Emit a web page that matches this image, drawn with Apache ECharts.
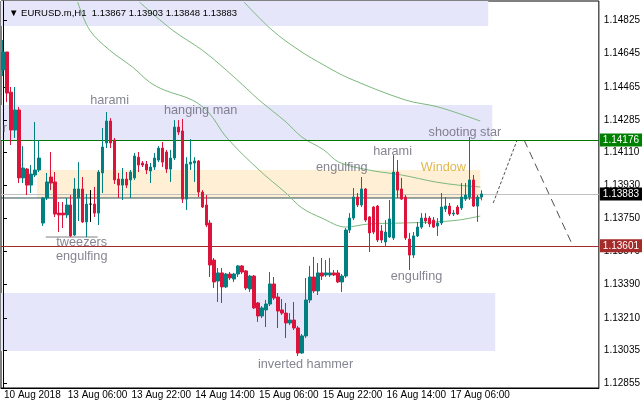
<!DOCTYPE html>
<html><head><meta charset="utf-8">
<script src="https://cdn.jsdelivr.net/npm/echarts@6/dist/echarts.min.js"></script>
<style>html,body{margin:0;padding:0;background:#fff}#c{width:643px;height:406px}</style>
</head><body><div id="c"></div>
<script>
const symbolName = 'EURUSD.m,H1';
// OHLC per H1 bar: [open, high, low, close]
const candles = [
[1.14556,1.14719,1.14523,1.14654],[1.14654,1.14654,1.14382,1.14431],[1.14436,1.14464,1.14149,1.14230],[1.14230,1.14464,1.14187,1.14339],
[1.14339,1.14355,1.13942,1.13970],[1.13970,1.14143,1.13942,1.14024],[1.14018,1.14024,1.13877,1.13931],[1.13931,1.14040,1.13888,1.13991],
[1.13986,1.14274,1.13975,1.14013],[1.14013,1.14176,1.14002,1.14078],[1.13725,1.13866,1.13709,1.13861],[1.13861,1.13997,1.13850,1.13948],
[1.13975,1.14111,1.13904,1.13942],[1.13948,1.14002,1.13758,1.13774],[1.13779,1.13839,1.13676,1.13769],[1.13779,1.13839,1.13698,1.13769],
[1.13769,1.13861,1.13752,1.13823],[1.13823,1.13877,1.13649,1.13655],[1.13660,1.13970,1.13655,1.13910],[1.13861,1.14056,1.13736,1.13910],
[1.13910,1.13975,1.13725,1.13731],[1.13731,1.13883,1.13649,1.13828],[1.13828,1.13904,1.13731,1.13828],[1.13828,1.13921,1.13758,1.13779],
[1.13779,1.14013,1.13714,1.14002],[1.13997,1.14241,1.13888,1.14138],[1.14160,1.14328,1.14132,1.14279],[1.14279,1.14295,1.14132,1.14160],
[1.14176,1.14187,1.13937,1.13959],[1.13964,1.13997,1.13861,1.13931],[1.13931,1.14024,1.13850,1.13964],[1.13964,1.14002,1.13915,1.13931],
[1.13959,1.14013,1.13861,1.14002],[1.13970,1.14105,1.13959,1.14089],[1.14083,1.14111,1.14002,1.14040],[1.14051,1.14062,1.14029,1.14040],
[1.14045,1.14062,1.13991,1.14013],[1.14008,1.14051,1.13942,1.14029],[1.14029,1.14105,1.14013,1.14078],[1.14067,1.14143,1.14056,1.14132],
[1.14132,1.14165,1.14029,1.14056],[1.14111,1.14122,1.13997,1.14018],[1.14018,1.14122,1.13948,1.14078],[1.14078,1.14284,1.14067,1.14246],
[1.14246,1.14284,1.14203,1.14219],[1.14225,1.14290,1.13834,1.13855],[1.13855,1.14083,1.13796,1.14045],[1.14045,1.14181,1.14013,1.14056],
[1.14051,1.14083,1.13948,1.14062],[1.14062,1.14067,1.13866,1.13893],[1.13893,1.13904,1.13807,1.13812],[1.13823,1.13877,1.13703,1.13714],
[1.13725,1.13741,1.13432,1.13497],[1.13524,1.13535,1.13372,1.13405],[1.13410,1.13481,1.13296,1.13454],[1.13454,1.13481,1.13291,1.13378],
[1.13378,1.13454,1.13372,1.13448],[1.13448,1.13459,1.13416,1.13427],[1.13421,1.13454,1.13405,1.13448],[1.13448,1.13497,1.13432,1.13492],
[1.13492,1.13497,1.13448,1.13459],[1.13465,1.13470,1.13361,1.13372],[1.13367,1.13443,1.13350,1.13437],[1.13437,1.13443,1.13258,1.13264],
[1.13291,1.13296,1.13188,1.13220],[1.13220,1.13274,1.13209,1.13264],[1.13253,1.13307,1.13160,1.13285],[1.13285,1.13459,1.13274,1.13394],
[1.13394,1.13432,1.13307,1.13318],[1.13323,1.13345,1.13155,1.13247],[1.13253,1.13312,1.13226,1.13236],[1.13236,1.13291,1.13101,1.13182],
[1.13182,1.13236,1.13171,1.13198],[1.13198,1.13296,1.13144,1.13155],[1.13155,1.13166,1.13003,1.13019],[1.13019,1.13122,1.13014,1.13112],
[1.13112,1.13427,1.13101,1.13307],[1.13307,1.13492,1.13291,1.13432],[1.13432,1.13541,1.13345,1.13356],[1.13356,1.13508,1.13334,1.13454],
[1.13454,1.13535,1.13416,1.13437],[1.13443,1.13524,1.13432,1.13454],[1.13443,1.13535,1.13432,1.13454],[1.13454,1.13470,1.13437,1.13443],
[1.13454,1.13470,1.13399,1.13405],[1.13405,1.13448,1.13350,1.13437],[1.13437,1.13698,1.13427,1.13687],[1.13687,1.13779,1.13671,1.13752],
[1.13752,1.13915,1.13741,1.13866],[1.13866,1.13888,1.13812,1.13823],[1.13823,1.13975,1.13812,1.13910],[1.13910,1.13915,1.13731,1.13741],
[1.13758,1.13763,1.13568,1.13671],[1.13812,1.13817,1.13665,1.13676],[1.13817,1.13823,1.13622,1.13633],[1.13682,1.13714,1.13617,1.13633],
[1.13622,1.13741,1.13595,1.13676],[1.13649,1.13850,1.13644,1.13747],[1.13644,1.14094,1.13633,1.14002],[1.14002,1.14067,1.13861,1.13904],
[1.13910,1.13970,1.13850,1.13855],[1.13866,1.13877,1.13633,1.13644],[1.13638,1.13671,1.13470,1.13551],[1.13551,1.13676,1.13535,1.13655],
[1.13655,1.13731,1.13649,1.13703],[1.13703,1.13779,1.13693,1.13752],[1.13752,1.13779,1.13720,1.13736],[1.13752,1.13763,1.13703,1.13720],
[1.13741,1.13758,1.13698,1.13703],[1.13709,1.13752,1.13655,1.13725],[1.13725,1.13888,1.13714,1.13812],[1.13801,1.13866,1.13785,1.13817],
[1.13817,1.13834,1.13763,1.13774],[1.13774,1.13796,1.13763,1.13779],[1.13812,1.13823,1.13769,1.13774],[1.13807,1.13942,1.13796,1.13866],
[1.13855,1.13942,1.13845,1.13877],[1.13866,1.14192,1.13850,1.13959],[1.13959,1.13986,1.13812,1.13817],[1.13817,1.13877,1.13731,1.13866],
[1.13867,1.13903,1.13848,1.13883]
];
const totalSlots = 150;
const xTickLabels = ['10 Aug 2018','13 Aug 06:00','13 Aug 22:00','14 Aug 14:00','15 Aug 06:00','15 Aug 22:00','16 Aug 14:00','17 Aug 06:00'];
const barsPerLabel = 16;
const yTickLabels = [1.14825,1.14645,1.14465,1.14285,1.14110,1.13930,1.13750,1.13570,1.13390,1.13210,1.13035,1.12855];
const yMin = 1.12829, yMax = 1.14931;
// moving averages: [bar index, price]
const maSlow = [[60.5,1.14925],[67.5,1.14773],[74.25,1.14664],[80.5,1.14583],[86.75,1.14512],[101,1.14393],[109.25,1.14355],[119.75,1.14279]];
const maMid = [[34.25,1.14925],[42.5,1.14773],[50,1.14664],[56,1.14556],[61,1.14458],[64.25,1.14393],[71,1.14274],[75,1.14192],[80.5,1.14122],[84.25,1.14056],[91.75,1.14013],[100,1.13986],[108.5,1.13948],[114.25,1.13931],[119.75,1.13921]];
const maFast = [[18.75,1.14925],[21.75,1.14773],[26.75,1.14664],[32.5,1.14572],[36.75,1.14491],[40.5,1.14447],[47.5,1.14393],[51.75,1.14322],[56,1.14192],[64.25,1.14013],[71,1.13888],[75,1.13807],[80,1.13752],[86,1.13703],[91.75,1.13720],[100,1.13725],[108.5,1.13731],[114.25,1.13741],[119.75,1.13763]];
// forecast path
const forecastUp = [[123,1.13834],[129,1.14176]];
const forecastDown = [[130.75,1.14176],[143,1.13600]];
// zones: [xStart, xEnd, priceTop, priceBottom, kind]
const zones = [
  [-0.5,121.75,1.14931,1.14795,'blue'],
  [-0.5,122.75,1.14366,1.14176,'blue'],
  [8.5,119.75,1.14013,1.13861,'peach'],
  [-0.5,123.5,1.13345,1.13030,'blue']
];
// horizontal levels: [price, line colour, label box colour]
const levels = [[1.14176,'#007800','#008000'],[1.13883,'#c0c0c0','#000000'],[1.13601,'#a52a2a','#a52a2a']];
const windowLine = [[-0.5,1.13861],[120,1.13861]];
const tweezersLine = [[10.75,1.13649],[23.75,1.13649]];
// pattern annotations: [x index, price, text]
const notes = [
  [26.75,1.14388,'harami'],[49.6,1.14339,'hanging man'],[19.75,1.13617,'tweezers'],[19.75,1.13546,'engulfing'],
  [85,1.14029,'engulfing'],[97.75,1.14111,'harami'],[115.9,1.14219,'shooting star'],[75.9,1.12954,'inverted hammer'],
  [103.75,1.13432,'engulfing'],[0.5,1.14236,'r']
];
const windowNote = [[110.5,1.14024,'Window']];

const FONT = '"Liberation Sans", Arial, sans-serif';
const last = candles[candles.length-1];
const chart = echarts.init(document.getElementById('c'), null, {renderer:'canvas'});
const isLabelIdx = (idx) => idx % barsPerLabel === 0 && idx / barsPerLabel < xTickLabels.length;
const noteSeries = (arr, color) => ({
  type:'scatter', xAxisIndex:1, yAxisIndex:0, symbolSize:0, silent:true, z:6,
  data: arr.map(([x,p,t])=>({value:[x,p], name:t})),
  label:{show:true, position:'inside', formatter:'{b}', color, fontSize:12.7, fontFamily:FONT}
});
const maSeries = (arr) => ({type:'line', xAxisIndex:1, yAxisIndex:0, data:arr, smooth:0.35, symbol:'none', silent:true, z:4,
  lineStyle:{color:'#7cb87c', width:1}});
const zoneSeries = {type:'custom', xAxisIndex:1, yAxisIndex:0, silent:true, z:0, clip:true,
  data: zones.map(z=>[z[0],z[1],z[2],z[3], z[4]==='peach'?1:0]),
  encode:{x:[0,1], y:[2,3]},
  renderItem:(params, api)=>{
    const p0 = api.coord([api.value(0), api.value(2)]);
    const p1 = api.coord([api.value(1), api.value(3)]);
    const c = params.coordSys;
    const x0 = Math.max(p0[0], c.x), x1 = Math.min(p1[0], c.x + c.width);
    const y0 = Math.max(p0[1], c.y), y1 = Math.min(p1[1], c.y + c.height);
    return {type:'rect', shape:{x:x0, y:y0, width:x1-x0, height:y1-y0},
      style:{fill: api.value(4) ? '#ffefd5' : '#e6e6fa'}};
  }};

chart.setOption({
  animation:false,
  backgroundColor:'#fff',
  title:{text:'\u25BC ' + symbolName + '  ' + last.map(v=>v.toFixed(5)).join(' '), left:4, top:3,
    textStyle:{fontSize:9.5, fontWeight:'normal', color:'#000', fontFamily:FONT}},
  grid:{left:1, top:1, right:42, bottom:18, show:true, borderColor:'#000', borderWidth:1, backgroundColor:'#fff'},
  xAxis:[
    {type:'category', data:Array.from({length:totalSlots},(_,i)=>String(i)), boundaryGap:true,
      axisLine:{lineStyle:{color:'#000'}},
      axisTick:{interval:(idx)=>isLabelIdx(idx), alignWithLabel:true, length:4, lineStyle:{color:'#000'}},
      axisLabel:{interval:(idx)=>isLabelIdx(idx), formatter:(v,idx)=>xTickLabels[idx/barsPerLabel], align:'left',
        margin:2, color:'#000', fontSize:10, fontFamily:FONT, padding:[0,0,0,1]},
      splitLine:{show:false}},
    {type:'value', min:-0.5, max:totalSlots-0.5, show:false}
  ],
  yAxis:{type:'value', position:'right', min:yMin, max:yMax, scale:true,
    axisLine:{show:true, lineStyle:{color:'#000'}},
    axisTick:{show:true, customValues:yTickLabels, length:4, lineStyle:{color:'#000'}},
    axisLabel:{customValues:yTickLabels, formatter:(v)=>v.toFixed(5), color:'#000', fontSize:10, fontFamily:FONT, margin:5},
    splitLine:{show:false}},
  series:[
    zoneSeries,
    {type:'line', xAxisIndex:1, yAxisIndex:0, data:windowLine, symbol:'none', silent:true, z:2,
      lineStyle:{color:'#2f4f4f', width:1}},
    {type:'line', xAxisIndex:1, yAxisIndex:0, data:tweezersLine, symbol:'none', silent:true, z:2,
      lineStyle:{color:'#808080', width:1}},
    {type:'line', xAxisIndex:1, yAxisIndex:0, data:[[-0.5,levels[1][0]],[totalSlots-0.5,levels[1][0]]], symbol:'none', silent:true, z:2,
      lineStyle:{width:0, opacity:0},
      markLine:{silent:true, precision:5, symbol:['none','none'], animation:false,
        data: levels.map(([p,lc,bg])=>({yAxis:p, lineStyle:{color:lc, width:1, type:'solid'},
          label:{show:true, position:'end', distance:1, color:'#fff', backgroundColor:bg, padding:[2,3,1,3],
            fontSize:10, fontFamily:FONT, formatter:p.toFixed(5)}}))}},
    maSeries(maSlow), maSeries(maMid), maSeries(maFast),
    {type:'candlestick', xAxisIndex:0, yAxisIndex:0, z:5, barWidth:3,
      data:candles.map(([o,h,l,c])=>[o,c,l,h]),
      itemStyle:{color:'#008080', color0:'#dc143c', borderColor:'#008080', borderColor0:'#dc143c', borderColorDoji:'#000', borderWidth:1}},
    {type:'line', xAxisIndex:1, yAxisIndex:0, data:forecastUp, symbol:'none', silent:true, z:4,
      lineStyle:{color:'#505050', width:1, type:[3,2]}},
    {type:'line', xAxisIndex:1, yAxisIndex:0, data:forecastDown, symbol:'none', silent:true, z:4,
      lineStyle:{color:'#505050', width:1, type:[8,5]}},
    noteSeries(notes, '#666677'),
    noteSeries(windowNote, '#daa520')
  ]
});
</script></body></html>
